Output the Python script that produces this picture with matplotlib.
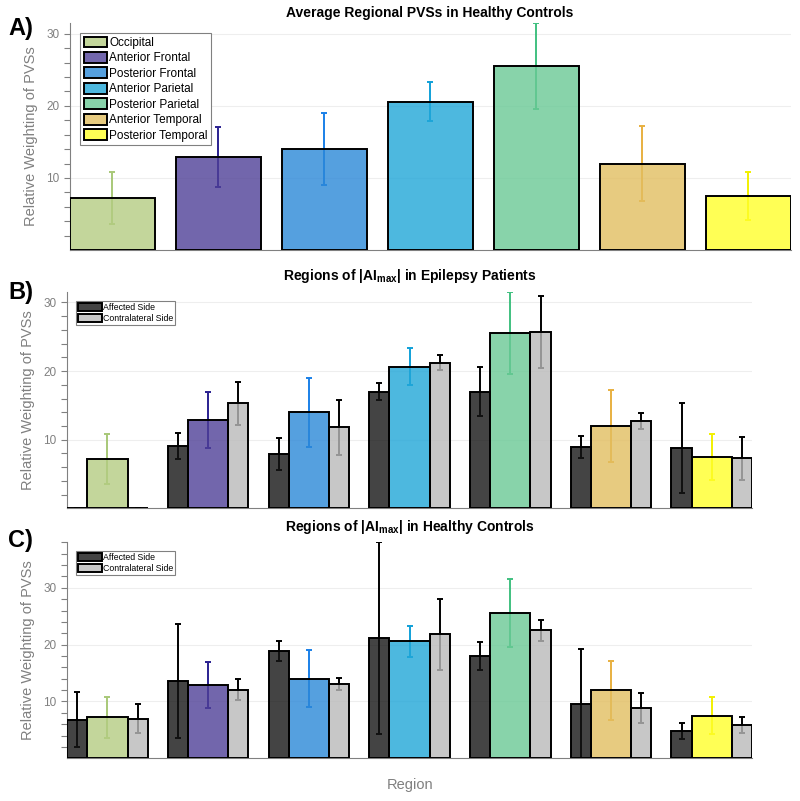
import numpy as np
import matplotlib
matplotlib.use('Agg')
import matplotlib.pyplot as plt
from matplotlib.patches import Patch
from matplotlib.ticker import FixedLocator

plt.rcParams['font.family'] = ['Liberation Sans', 'DejaVu Sans']
plt.rcParams['mathtext.fontset'] = 'custom'
plt.rcParams['mathtext.rm'] = 'Liberation Sans'
plt.rcParams['mathtext.bf'] = 'Liberation Sans:bold'

# 区域名称与颜色
regions = ['Occipital', 'Anterior Frontal', 'Posterior Frontal', 'Anterior Parietal',
           'Posterior Parietal', 'Anterior Temporal', 'Posterior Temporal']
# 柱子底色（带透明度后接近原图颜色）
region_colors = ['#b4cc82', '#4f4097', '#2b88d8', '#20a6d8', '#6ac995', '#e2be60', '#ffff2a']
err_colors = ['#a8c878', '#2a2090', '#1a80e8', '#10a0d8', '#40c080', '#e8b040', '#f2f000']

# 健康对照组的区域平均值与误差
healthy_mean = [7.2, 12.9, 14.0, 20.6, 25.5, 12.0, 7.5]
healthy_err = [3.6, 4.1, 5.0, 2.7, 6.0, 5.2, 3.3]

# B) 癫痫患者：患侧 / 对侧
epi_affected = [0.0, 9.1, 7.9, 17.0, 17.0, 8.9, 8.8]
epi_affected_err = [0.0, 1.9, 2.3, 1.2, 3.6, 1.6, 6.5]
epi_contra = [0.0, 15.3, 11.8, 21.2, 25.7, 12.7, 7.3]
epi_contra_err = [0.0, 3.1, 4.0, 1.1, 5.2, 1.2, 3.1]

# C) 健康对照：患侧 / 对侧
hc_affected = [6.8, 13.6, 18.9, 21.2, 18.0, 9.6, 4.8]
hc_affected_err = [4.85, 10.0, 1.8, 16.9, 2.5, 9.7, 1.45]
hc_contra = [7.0, 12.1, 13.1, 21.8, 22.5, 8.85, 5.9]
hc_contra_err = [2.55, 1.9, 1.05, 6.3, 1.8, 2.7, 1.4]

ALPHA = 0.8
GRAY_TXT = '#808080'


def style_axis(ax, top):
    ax.set_xlim(0.6, 7.4)
    ax.set_ylim(0, top)
    ax.yaxis.set_major_locator(FixedLocator([10, 20, 30]))
    ax.yaxis.set_minor_locator(FixedLocator(np.arange(2, top + 0.01, 2)))
    ax.tick_params(axis='y', which='both', direction='out', length=4, color=GRAY_TXT,
                   labelcolor=GRAY_TXT, labelsize=8.5, width=0.8)
    ax.set_xticks([])
    for s in ['top', 'right']:
        ax.spines[s].set_visible(False)
    for s in ['left', 'bottom']:
        ax.spines[s].set_color(GRAY_TXT)
        ax.spines[s].set_linewidth(0.8)
    ax.grid(axis='y', color='#eeeeee', linewidth=0.8)
    ax.set_axisbelow(True)
    ax.set_ylabel('Relative Weighting of PVSs', color=GRAY_TXT, fontsize=10.5, labelpad=6)


def draw_bars(ax, x, h, e, fc, ec, w):
    # 误差线放在半透明柱子下面，柱内部分颜色会变淡
    ax.errorbar(x, h, yerr=e, fmt='none', ecolor=ec, elinewidth=1.4, capsize=2.5,
                capthick=1.4, zorder=2)
    ax.bar(x, h, width=w, color=fc, alpha=ALPHA, zorder=3)
    ax.bar(x, h, width=w, facecolor='none', edgecolor='black', linewidth=1.4, zorder=4)


fig = plt.figure(figsize=(8, 8.01), dpi=100)
x = np.arange(1, 8)

# A) 平均区域 PVS
axA = fig.add_axes([0.0875, 0.6879, 0.901, 0.2834])
for i in range(7):
    draw_bars(axA, x[i], healthy_mean[i], healthy_err[i], region_colors[i], err_colors[i], 0.8)
style_axis(axA, max(np.array(healthy_mean) + np.array(healthy_err)))
hA = [Patch(facecolor=matplotlib.colors.to_rgba(region_colors[i], ALPHA), edgecolor='black',
            linewidth=1.4) for i in range(7)]
legA = axA.legend(hA, regions, loc='upper left', bbox_to_anchor=(0.014, 0.956), borderaxespad=0,
                  fontsize=8.5, handlelength=2.0, handleheight=1.05, labelspacing=0.25,
                  handletextpad=0.15, borderpad=0.3, fancybox=False, edgecolor=GRAY_TXT,
                  framealpha=1)
legA.get_frame().set_linewidth(0.8)


def grouped(ax, aff, aff_e, con, con_e):
    for i in range(7):
        draw_bars(ax, x[i] - 0.3, aff[i], aff_e[i], '#151515', 'black', 0.2)
        draw_bars(ax, x[i], healthy_mean[i], healthy_err[i], region_colors[i], err_colors[i], 0.4)
        draw_bars(ax, x[i] + 0.3, con[i], con_e[i], '#bababa', 'black', 0.2)
    top = max(np.max(np.array(aff) + np.array(aff_e)), np.max(np.array(con) + np.array(con_e)),
              np.max(np.array(healthy_mean) + np.array(healthy_err)))
    style_axis(ax, top)
    hs = [Patch(facecolor=matplotlib.colors.to_rgba('#151515', ALPHA), edgecolor='black', linewidth=1.4),
          Patch(facecolor=matplotlib.colors.to_rgba('#bababa', ALPHA), edgecolor='black', linewidth=1.4)]
    leg = ax.legend(hs, ['Affected Side', 'Contralateral Side'], loc='upper left',
                    bbox_to_anchor=(0.013, 0.958), borderaxespad=0, fontsize=6.3,
                    handlelength=2.7, handleheight=1.0, labelspacing=0.2, handletextpad=0.1,
                    borderpad=0.25, fancybox=False, edgecolor=GRAY_TXT, framealpha=1)
    leg.get_frame().set_linewidth(0.8)


axB = fig.add_axes([0.084, 0.3652, 0.856, 0.2703])
grouped(axB, epi_affected, epi_affected_err, epi_contra, epi_contra_err)

axC = fig.add_axes([0.084, 0.0533, 0.856, 0.2704])
grouped(axC, hc_affected, hc_affected_err, hc_contra, hc_contra_err)
axC.set_xlabel('Region', color=GRAY_TXT, fontsize=10.5, labelpad=14)

# 标题与面板标签
fig.text(430 / 800, 1 - 13 / 801, 'Average Regional PVSs in Healthy Controls',
         ha='center', va='center', fontsize=10, fontweight='bold')
fig.text(410 / 800, 1 - 276 / 801, r'Regions of |AI$_{\mathbf{max}}$| in Epilepsy Patients',
         ha='center', va='center', fontsize=10, fontweight='bold')
fig.text(410 / 800, 1 - 527 / 801, r'Regions of |AI$_{\mathbf{max}}$| in Healthy Controls',
         ha='center', va='center', fontsize=10, fontweight='bold')
for lab, yy in [('A)', 29), ('B)', 292), ('C)', 540)]:
    fig.text(8 / 800, 1 - yy / 801, lab, ha='left', va='center', fontsize=17, fontweight='bold')

fig.savefig('out.png', dpi=100)
